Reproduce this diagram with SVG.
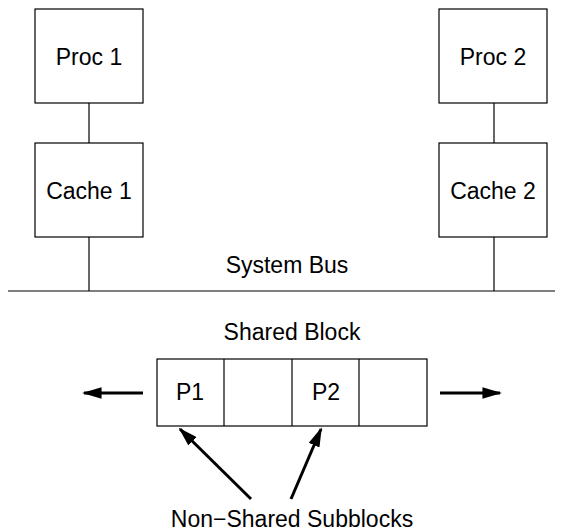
<svg xmlns="http://www.w3.org/2000/svg" width="563" height="531" viewBox="0 0 563 531">
  <style>
    .box { fill: #ffffff; stroke: #000000; stroke-width: 1.2; }
    .wire { stroke: #000000; stroke-width: 1.2; fill: none; }
    .arrow { stroke: #000000; stroke-width: 3; fill: none; }
    text { font-family: "Liberation Sans", Arial, sans-serif; font-size: 23px; fill: #000000; text-anchor: middle; }
  </style>
  <defs>
    <marker id="head" viewBox="0 0 10 6" refX="9" refY="3" markerWidth="6.5" markerHeight="3.9" markerUnits="strokeWidth" orient="auto">
      <path d="M0,0 L10,3 L0,6 Z" fill="#000000"/>
    </marker>
  </defs>
  <rect width="563" height="531" fill="#ffffff"/>

  <!-- links and bus -->
  <g id="connectors">
    <line class="wire" x1="89" y1="103" x2="89" y2="143"/>
    <line class="wire" x1="494" y1="103" x2="494" y2="143"/>
    <line class="wire" x1="89" y1="237" x2="89" y2="291"/>
    <line class="wire" x1="494" y1="237" x2="494" y2="291"/>
    <line class="wire" x1="8" y1="291" x2="555" y2="291"/>
    <line class="arrow" x1="143" y1="393" x2="84" y2="393" marker-end="url(#head)"/>
    <line class="arrow" x1="440" y1="393" x2="500" y2="393" marker-end="url(#head)"/>
    <line class="arrow" x1="251" y1="499" x2="180" y2="429" marker-end="url(#head)"/>
    <line class="arrow" x1="291" y1="499" x2="321" y2="429" marker-end="url(#head)"/>
  </g>

  <g id="proc1">
    <rect class="box" x="35" y="9" width="108" height="94"/>
    <text x="89" y="65">Proc 1</text>
  </g>
  <g id="cache1">
    <rect class="box" x="35" y="143" width="108" height="94"/>
    <text x="89" y="199">Cache 1</text>
  </g>
  <g id="proc2">
    <rect class="box" x="439" y="9" width="108" height="94"/>
    <text x="493" y="65">Proc 2</text>
  </g>
  <g id="cache2">
    <rect class="box" x="439" y="143" width="108" height="94"/>
    <text x="493" y="199">Cache 2</text>
  </g>
  <g id="bus-label">
    <text x="287" y="273">System Bus</text>
  </g>

  <g id="shared-block">
    <text x="292" y="340">Shared Block</text>
    <rect class="box" x="157" y="359" width="270" height="67"/>
    <line class="wire" x1="224" y1="359" x2="224" y2="426"/>
    <line class="wire" x1="292" y1="359" x2="292" y2="426"/>
    <line class="wire" x1="359" y1="359" x2="359" y2="426"/>
    <text x="190" y="400">P1</text>
    <text x="326" y="400">P2</text>
  </g>

  <g id="subblocks-label">
    <text x="292" y="527">Non−Shared Subblocks</text>
  </g>
</svg>
